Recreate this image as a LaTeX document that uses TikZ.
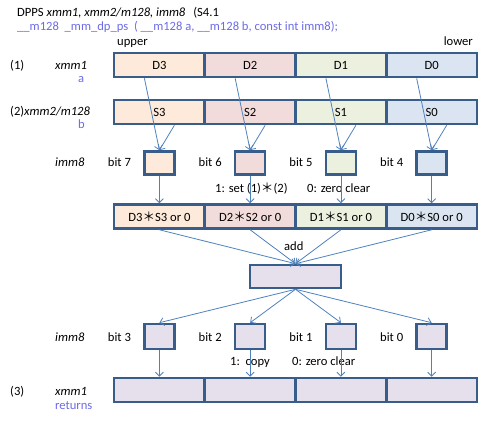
\documentclass[tikz,border=0pt]{standalone}
\usepackage{fontspec}
\setmainfont{Carlito}
\newfontfamily\cjk{Noto Sans CJK JP}
\usetikzlibrary{arrows.meta}
\definecolor{frame}{HTML}{385D8A}
\definecolor{wire}{HTML}{4F81BD}
\definecolor{note}{HTML}{6B6BE8}
\definecolor{fillA}{HTML}{FDEADA}
\definecolor{fillB}{HTML}{F2DCDB}
\definecolor{fillC}{HTML}{EBF1DE}
\definecolor{fillD}{HTML}{DBE5F1}
\definecolor{fillS}{HTML}{E5E0EC}
\newcommand{\mul}{{\cjk ＊}}

\begin{document}
\begin{tikzpicture}[x=1pt, y=-1pt, font=\fontsize{12.6}{14}\selectfont,
	cell/.style={draw=frame, line width=2.6pt, minimum width=90.75pt, minimum height=24pt, inner sep=0pt},
	bitbox/.style={draw=frame, line width=2.6pt, minimum width=30pt, minimum height=23pt, inner sep=0pt},
	link/.style={draw=wire, line width=0.8pt, -{Straight Barb[length=4pt,width=8pt]}},
	txt/.style={anchor=base west, inner sep=0pt},
	txtr/.style={anchor=base east, inner sep=0pt}]
	\useasboundingbox (0,0) rectangle (484,422);
% header
	\node[txt] (title) at (17,16.5) {DPPS \textit{xmm1, xmm2/m128, imm8}\hspace{8pt}(S4.1};
	\node[txt, text=note] (proto) at (17,30.5) {\_\_m128\ \ \_mm\_dp\_ps\ \ ( \_\_m128 a, \_\_m128\ b, const int imm8);};
	\node[txt] (upper) at (117,46) {upper};
	\node[txtr] (lower) at (473,46) {lower};
% left labels
	\node[txt] (n1) at (10,70) {(1)};
	\node[txt] (x1) at (55,70) {\textit{xmm1}};
	\node[txt, text=note] (a) at (78,83) {a};
	\node[txt] (n2) at (10,116) {(2)\textit{xmm2/m128}};
	\node[txt, text=note] (b) at (78,129) {b};
	\node[txt] (m1) at (55,167) {\textit{imm8}};
	\node[txt] (m2) at (55,341.5) {\textit{imm8}};
	\node[txt] (n3) at (10,395) {(3)};
	\node[txt] (x3) at (55,395) {\textit{xmm1}};
	\node[txt, text=note] (ret) at (55,409) {returns};
% register cells and bit boxes
	\foreach \i/\n/\c/\hb in {0/3/fillA/7, 1/2/fillB/6, 2/1/fillC/5, 3/0/fillD/4} {
		\node[cell, fill=\c] (d\n) at ({159.4+90.75*\i}, 65) {D\n};
		\node[cell, fill=\c] (s\n) at ({159.4+90.75*\i}, 112) {S\n};
		\node[bitbox, fill=\c] (hi\n) at ({159.4+90.75*\i}, 163) {};
		\node[txtr] (hl\n) at ([xshift=-12pt]hi\n.west |- 0,167) {bit \hb};
		\node[cell, fill=\c] (p\n) at ({159.4+90.75*\i}, 216.5) {D\n\mul S\n{} or 0};
		\node[bitbox, fill=fillS, minimum height=25pt] (lo\n) at ({159.4+90.75*\i}, 336.5) {};
		\node[txtr] (ll\n) at ([xshift=-12pt]lo\n.west |- 0,341.5) {bit \n};
		\node[cell, fill=fillS] (r\n) at ({159.4+90.75*\i}, 390) {};
	}
	\node[cell, fill=fillS, minimum height=23pt] (sum) at (295.5,276.5) {};
% notes
	\node[txt] (set) at (215,192) {1: set (1)\mul(2)};
	\node[txt] (clr1) at (307,192) {0: zero clear};
	\node[txt] (add) at (284,250.5) {add};
	\node[txt] (copy) at (230,365) {1:\ \ copy};
	\node[txt] (clr2) at (292,365) {0: zero clear};
% connectors
	\foreach \n in {3,2,1,0} {
		\draw[link] ([xshift=-15pt]d\n.south) -- (hi\n.north);
		\draw[link] ([xshift=15pt]s\n.south) -- (hi\n.north);
		\draw[link] (hi\n.south) -- (p\n.north);
		\draw[link] (p\n.south) -- (sum.north);
		\draw[link] (sum.south) -- (lo\n.north);
		\draw[link] (lo\n.south) -- (r\n.north);
	}
\end{tikzpicture}
\end{document}
